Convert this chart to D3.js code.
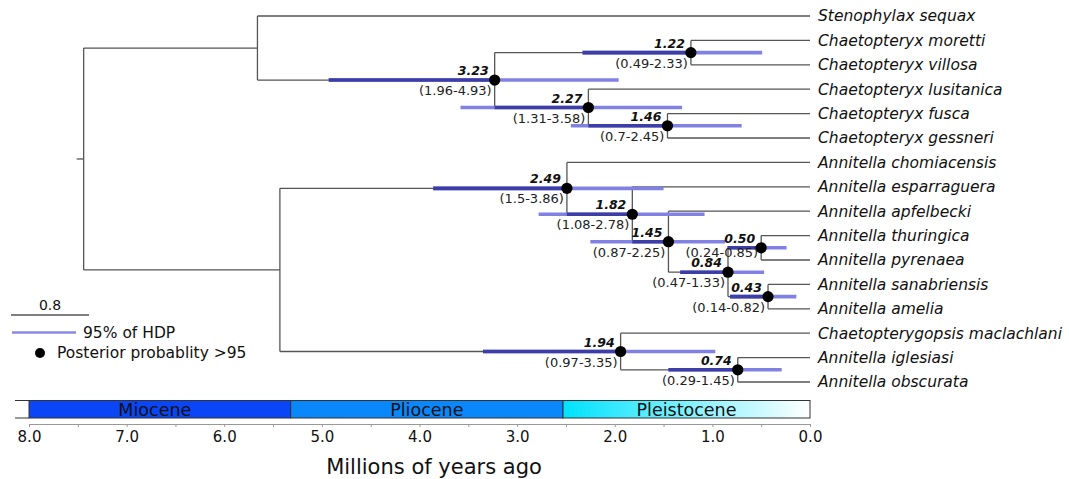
<!DOCTYPE html>
<html><head><meta charset="utf-8">
<script src="https://cdn.jsdelivr.net/npm/d3@7"></script>
<style>
html,body{margin:0;padding:0;background:#fff;}
svg{display:block;font-family:"DejaVu Sans",sans-serif;}
</style></head>
<body>
<svg id="chart" width="1069" height="479"></svg>
<script>
// ---------------- DATA ----------------
const tipNames = [
  "Stenophylax sequax","Chaetopteryx moretti","Chaetopteryx villosa","Chaetopteryx lusitanica",
  "Chaetopteryx fusca","Chaetopteryx gessneri","Annitella chomiacensis","Annitella esparraguera",
  "Annitella apfelbecki","Annitella thuringica","Annitella pyrenaea","Annitella sanabriensis",
  "Annitella amelia","Chaetopterygopsis maclachlani","Annitella iglesiasi","Annitella obscurata"
];
const nodeIds  = ["root","A","B","c323","c122","c227","c146","a249","a182","a145","a084","a050","a043","b194","b074"];
const nodeAge  = [7.44, 5.66, 5.43, 3.23, 1.22, 2.27, 1.46, 2.49, 1.82, 1.45, 0.84, 0.50, 0.43, 1.94, 0.74];
const hpdMin   = [null, null, null, 1.96, 0.49, 1.31, 0.7,  1.5,  1.08, 0.87, 0.47, 0.24, 0.14, 0.97, 0.29];
const hpdMax   = [null, null, null, 4.93, 2.33, 3.58, 2.45, 3.86, 2.78, 2.25, 1.33, 0.85, 0.82, 3.35, 1.45];
const nodeChildren = [
  ["A","B"],
  ["Stenophylax sequax","c323"],
  ["a249","b194"],
  ["c122","c227"],
  ["Chaetopteryx moretti","Chaetopteryx villosa"],
  ["Chaetopteryx lusitanica","c146"],
  ["Chaetopteryx fusca","Chaetopteryx gessneri"],
  ["Annitella chomiacensis","a182"],
  ["Annitella esparraguera","a145"],
  ["Annitella apfelbecki","a084"],
  ["a050","a043"],
  ["Annitella thuringica","Annitella pyrenaea"],
  ["Annitella sanabriensis","Annitella amelia"],
  ["Chaetopterygopsis maclachlani","b074"],
  ["Annitella iglesiasi","Annitella obscurata"]
];
const epochNames = ["Miocene","Pliocene","Pleistocene"];
const epochStart = [8.0, 5.32, 2.53];
const epochEnd   = [5.32, 2.53, 0.0];
const axisTicks  = [8.0,7.5,7.0,6.5,6.0,5.5,5.0,4.5,4.0,3.5,3.0,2.5,2.0,1.5,1.0,0.5,0.0];
const scaleBarLength = 0.8;
const legendLabels = ["95% of HDP","Posterior probablity >95"];
const axisTitle = "Millions of years ago";

// ---------------- BUILD ----------------
const svg = d3.select("#chart");
const x = d3.scaleLinear().domain([8, 0]).range([29, 810]);
const yTip = d3.scaleLinear().domain([0, tipNames.length - 1]).range([16, 382]);

const info = {};
tipNames.forEach((n, i) => info[n] = {id: n, tip: true, age: 0, y: yTip(i)});
nodeIds.forEach((id, i) => info[id] = {id, tip: false, age: nodeAge[i], lo: hpdMin[i], hi: hpdMax[i], kids: nodeChildren[i]});
nodeIds.forEach(id => info[id].kids.forEach(k => info[k].parent = id));
function yOf(id) {
  const n = info[id];
  if (n.y !== undefined) return n.y;
  n.y = d3.mean(n.kids.map(yOf));
  return n.y;
}
yOf("root");

const branchColor = "#555";
const gTree = svg.append("g");

// branches
nodeIds.forEach(id => {
  const n = info[id];
  const ys = n.kids.map(k => info[k].y);
  gTree.append("line").attr("x1", x(n.age)).attr("x2", x(n.age))
    .attr("y1", d3.min(ys)).attr("y2", d3.max(ys))
    .attr("stroke", branchColor).attr("stroke-width", 1.3);
  n.kids.forEach(k => {
    const c = info[k];
    gTree.append("line").attr("x1", x(n.age)).attr("x2", x(c.age))
      .attr("y1", c.y).attr("y2", c.y)
      .attr("stroke", branchColor).attr("stroke-width", 1.3);
  });
});
// root stem
gTree.append("line").attr("x1", x(info.root.age) - 7).attr("x2", x(info.root.age))
  .attr("y1", info.root.y).attr("y2", info.root.y)
  .attr("stroke", branchColor).attr("stroke-width", 1.3);

// HPD bars
const withHpd = nodeIds.filter(id => info[id].lo !== null);
withHpd.forEach(id => {
  const n = info[id];
  gTree.append("line").attr("x1", x(n.hi)).attr("x2", x(n.lo))
    .attr("y1", n.y).attr("y2", n.y)
    .attr("stroke", "#8181e4").attr("stroke-width", 3.6);
  const p = info[n.parent];
  const a = Math.max(x(n.hi), x(p.age)), b = Math.min(x(n.lo), x(n.age));
  if (b > a) {
    gTree.append("line").attr("x1", a).attr("x2", b)
      .attr("y1", n.y).attr("y2", n.y)
      .attr("stroke", "#3d3da6").attr("stroke-width", 3.6);
  }
});

// dots
gTree.selectAll("circle.node").data(withHpd).join("circle")
  .attr("cx", id => x(info[id].age)).attr("cy", id => info[id].y)
  .attr("r", 5.6).attr("fill", "#000");

// labels
const hpdDy = {a050: 9};
withHpd.forEach(id => {
  const n = info[id];
  gTree.append("text").attr("x", x(n.age) - 6).attr("y", n.y - 5)
    .attr("text-anchor", "end").attr("font-size", 12.5)
    .attr("font-weight", "bold").attr("font-style", "italic")
    .attr("fill", "#111").text(n.age.toFixed(2));
  gTree.append("text").attr("x", x(n.age) - 3).attr("y", n.y + (hpdDy[id] || 15))
    .attr("text-anchor", "end").attr("font-size", 13)
    .attr("fill", "#222").text("(" + String(n.lo) + "-" + String(n.hi) + ")");
});

// tip labels
tipNames.forEach(t => {
  gTree.append("text").attr("x", x(0) + 8).attr("y", info[t].y).attr("dy", "0.35em")
    .attr("font-size", 15.5).attr("font-style", "italic").attr("fill", "#111").text(t);
});

// ---------------- LEGEND ----------------
const lg = svg.append("g");
const sbLen = x(0) - x(scaleBarLength);
lg.append("line").attr("x1", 11).attr("x2", 11 + sbLen).attr("y1", 315).attr("y2", 315)
  .attr("stroke", "#555").attr("stroke-width", 1.5);
lg.append("text").attr("x", 11 + sbLen / 2).attr("y", 310).attr("text-anchor", "middle")
  .attr("font-size", 14).attr("fill", "#111").text(String(scaleBarLength));
lg.append("line").attr("x1", 12).attr("x2", 76).attr("y1", 332.5).attr("y2", 332.5)
  .attr("stroke", "#8a8ae6").attr("stroke-width", 2.5);
lg.append("text").attr("x", 83).attr("y", 332.5).attr("dy", "0.35em")
  .attr("font-size", 15.5).attr("fill", "#111").text(legendLabels[0]);
lg.append("circle").attr("cx", 40).attr("cy", 353).attr("r", 5).attr("fill", "#000");
lg.append("text").attr("x", 57).attr("y", 353).attr("dy", "0.35em")
  .attr("font-size", 15.5).attr("fill", "#111").text(legendLabels[1]);

// ---------------- EPOCH BAR ----------------
const defs = svg.append("defs");
const grad = defs.append("linearGradient").attr("id", "pleist").attr("x1", "0%").attr("x2", "100%");
grad.append("stop").attr("offset", "0%").attr("stop-color", "#00e2fd");
grad.append("stop").attr("offset", "100%").attr("stop-color", "#ffffff");
const epochFill = ["#0a46f6", "#0a88fb", "url(#pleist)"];
const barTop = 400.5, barH = 17.5;
const eg = svg.append("g");
eg.selectAll("rect").data(epochNames).join("rect")
  .attr("x", (d, i) => x(epochStart[i])).attr("width", (d, i) => x(epochEnd[i]) - x(epochStart[i]))
  .attr("y", barTop).attr("height", barH)
  .attr("fill", (d, i) => epochFill[i]).attr("stroke", "#333").attr("stroke-width", 1);
eg.append("line").attr("x1", 15).attr("x2", x(8)).attr("y1", barTop).attr("y2", barTop).attr("stroke", "#333");
eg.append("line").attr("x1", 15).attr("x2", x(8)).attr("y1", barTop + barH).attr("y2", barTop + barH).attr("stroke", "#333");
eg.selectAll("text").data(epochNames).join("text")
  .attr("x", (d, i) => (x(epochStart[i]) + x(epochEnd[i])) / 2 - (i === 0 ? 5 : 0))
  .attr("y", barTop + barH / 2).attr("dy", "0.36em")
  .attr("text-anchor", "middle").attr("font-size", 17.5).attr("fill", "#111").text(d => d);

// ---------------- AXIS ----------------
const axis = d3.axisBottom(x).tickValues(axisTicks).tickSize(3).tickSizeOuter(0).tickPadding(4)
  .tickFormat(d => Number.isInteger(d) ? d3.format(".1f")(d) : "");
const ag = svg.append("g").attr("transform", "translate(0,424)").call(axis);
ag.select(".domain").attr("stroke", "#999");
ag.selectAll(".tick line").attr("stroke", "#999");
ag.selectAll(".tick text").attr("font-size", 15).attr("fill", "#111").attr("font-family", "DejaVu Sans");

svg.append("text").attr("x", 434).attr("y", 474).attr("text-anchor", "middle")
  .attr("font-size", 21).attr("fill", "#111").text(axisTitle);
</script>
</body></html>
